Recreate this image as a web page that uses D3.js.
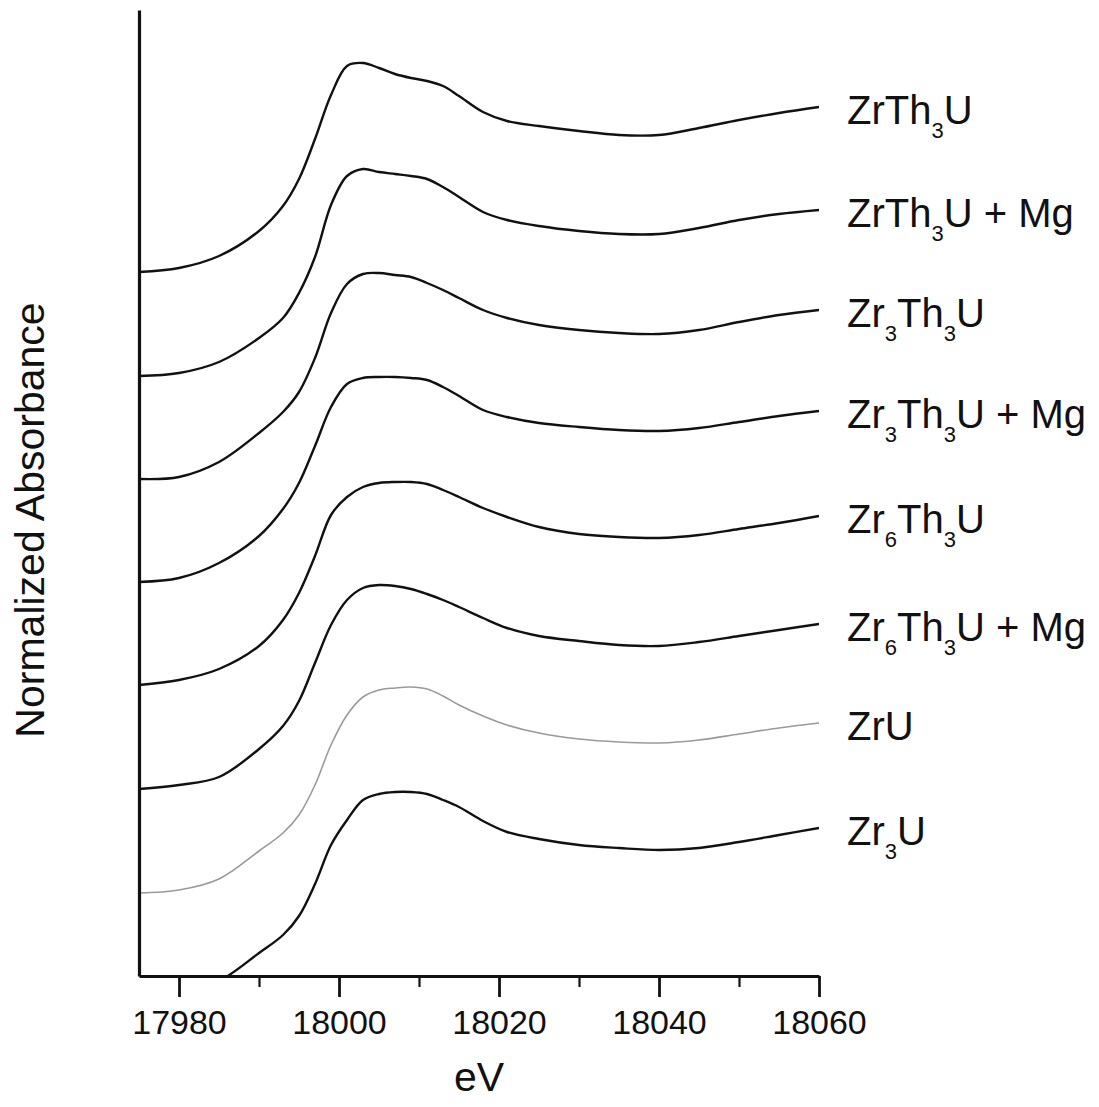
<!DOCTYPE html>
<html>
<head>
<meta charset="utf-8">
<script src="https://cdn.jsdelivr.net/npm/d3@7"></script>
<style>
  html, body { margin: 0; padding: 0; background: #fff; overflow: hidden; }
  svg { display: block; }
  text { font-family: 'Liberation Sans', Arial, Helvetica, sans-serif; fill: #111; }
  .tick text { font-size: 34px; }
  .axis-label { font-size: 41px; }
  .curve-label { font-size: 40px; }
  .sub { font-size: 22px; }
</style>
</head>
<body>
<svg width="1099" height="1107"></svg>
<script>
// photon energy grid (eV), shared by all spectra
const energies = [17975, 17980, 17985, 17990, 17993, 17995, 17997, 17999, 18001, 18003,
  18005, 18007, 18009, 18011, 18013, 18015, 18018, 18021, 18025, 18030,
  18035, 18040, 18045, 18050, 18055, 18060];

// normalized absorbance, already stacked with the offsets used in the figure
const zrTh3U = [7.04, 7.08, 7.20, 7.45, 7.70, 7.97, 8.37, 8.81, 9.10, 9.13,
  9.08, 9.02, 8.98, 8.95, 8.90, 8.80, 8.64, 8.55, 8.50, 8.45,
  8.41, 8.41, 8.48, 8.56, 8.63, 8.69];
const zrTh3UMg = [6.00, 6.03, 6.14, 6.38, 6.58, 6.83, 7.19, 7.71, 8.00, 8.07,
  8.04, 8.02, 8.00, 7.97, 7.89, 7.79, 7.64, 7.56, 7.50, 7.45,
  7.42, 7.42, 7.48, 7.56, 7.62, 7.66];
const zr3Th3U = [4.97, 4.99, 5.14, 5.43, 5.64, 5.84, 6.18, 6.63, 6.92, 7.02,
  7.03, 7.01, 6.99, 6.93, 6.86, 6.78, 6.66, 6.58, 6.51, 6.46,
  6.43, 6.42, 6.46, 6.54, 6.61, 6.66];
const zr3Th3UMg = [3.94, 3.98, 4.13, 4.40, 4.67, 4.93, 5.30, 5.69, 5.92, 5.98,
  5.99, 5.99, 5.98, 5.96, 5.89, 5.80, 5.66, 5.59, 5.53, 5.49,
  5.46, 5.45, 5.48, 5.54, 5.60, 5.65];
const zr6Th3U = [2.91, 2.96, 3.07, 3.30, 3.56, 3.83, 4.20, 4.61, 4.79, 4.89,
  4.93, 4.94, 4.94, 4.92, 4.86, 4.79, 4.68, 4.59, 4.49, 4.42,
  4.39, 4.38, 4.41, 4.47, 4.53, 4.60];
const zr6Th3UMg = [1.87, 1.91, 1.99, 2.27, 2.50, 2.75, 3.13, 3.51, 3.76, 3.88,
  3.91, 3.90, 3.87, 3.82, 3.76, 3.69, 3.58, 3.48, 3.40, 3.35,
  3.31, 3.30, 3.34, 3.40, 3.46, 3.52];
const zrU = [0.83, 0.86, 0.97, 1.25, 1.43, 1.61, 1.91, 2.31, 2.61, 2.79,
  2.86, 2.88, 2.89, 2.87, 2.80, 2.71, 2.60, 2.51, 2.43, 2.37,
  2.34, 2.33, 2.36, 2.42, 2.48, 2.53];
const zr3U = [-0.20, -0.17, -0.05, 0.23, 0.41, 0.60, 0.92, 1.31, 1.56, 1.76,
  1.82, 1.84, 1.84, 1.82, 1.76, 1.69, 1.55, 1.44, 1.37, 1.31,
  1.28, 1.26, 1.28, 1.34, 1.41, 1.48];

// "_3" marks a subscript digit
const seriesNames = ['ZrTh_3U', 'ZrTh_3U + Mg', 'Zr_3Th_3U', 'Zr_3Th_3U + Mg',
  'Zr_6Th_3U', 'Zr_6Th_3U + Mg', 'ZrU', 'Zr_3U'];
const seriesValues = [zrTh3U, zrTh3UMg, zr3Th3U, zr3Th3UMg, zr6Th3U, zr6Th3UMg, zrU, zr3U];
const seriesColors = ['#111', '#111', '#111', '#111', '#111', '#111', '#9a9a9a', '#111'];

const majorTicks = [17980, 18000, 18020, 18040, 18060];
const minorTicks = [17990, 18010, 18030, 18050];

const svg = d3.select('svg');
const height = +svg.attr('height');
const width = +svg.attr('width');

const margin = {top: 10, right: 280, bottom: 131, left: 139};
const innerWidth = width - margin.left - margin.right;
const innerHeight = height - margin.top - margin.bottom;

const xScale = d3.scaleLinear()
  .domain([17975, 18060])
  .range([0, innerWidth]);

const yScale = d3.scaleLinear()
  .domain([0, 9.66])
  .range([innerHeight, 0]);

const defs = svg.append('defs');
defs.append('clipPath')
  .attr('id', 'plot-clip')
  .append('rect')
  .attr('width', innerWidth)
  .attr('height', innerHeight);

const g = svg.append('g')
  .attr('transform', `translate(${margin.left}, ${margin.top})`);

// spectra
const lineGenerator = d3.line()
  .x((d, i) => xScale(energies[i]))
  .y(d => yScale(d))
  .curve(d3.curveCatmullRom.alpha(0.5));

g.append('g')
  .attr('clip-path', 'url(#plot-clip)')
  .selectAll('path')
  .data(seriesValues)
  .enter().append('path')
    .attr('fill', 'none')
    .attr('stroke', (d, i) => seriesColors[i])
    .attr('stroke-width', (d, i) => i === 6 ? 1.6 : 2.4)
    .attr('stroke-linejoin', 'round')
    .attr('d', lineGenerator);

// minor ticks first, then the main axis on top
const minorAxis = d3.axisBottom(xScale)
  .tickValues(minorTicks)
  .tickSize(11)
  .tickSizeOuter(0)
  .tickFormat('');

const minorG = g.append('g').call(minorAxis)
  .attr('transform', `translate(0, ${innerHeight})`);
minorG.select('.domain').remove();
minorG.selectAll('text').remove();
minorG.selectAll('line').attr('stroke', '#111').attr('stroke-width', 2.2);

const xAxis = d3.axisBottom(xScale)
  .tickValues(majorTicks)
  .tickSize(21)
  .tickSizeOuter(0)
  .tickPadding(13)
  .tickFormat(d3.format('d'));

const xAxisG = g.append('g').call(xAxis)
  .attr('transform', `translate(0, ${innerHeight})`);
xAxisG.select('.domain').attr('stroke', '#111').attr('stroke-width', 3);
xAxisG.selectAll('line').attr('stroke', '#111').attr('stroke-width', 2.8);
xAxisG.selectAll('text').attr('fill', '#111');

g.append('text')
  .attr('class', 'axis-label')
  .attr('x', innerWidth / 2)
  .attr('y', innerHeight + 115)
  .attr('text-anchor', 'middle')
  .text('eV');

const yAxis = d3.axisLeft(yScale)
  .tickValues([])
  .tickSizeOuter(0);

const yAxisG = g.append('g').call(yAxis);
yAxisG.select('.domain').attr('stroke', '#111').attr('stroke-width', 3.2);

g.append('text')
  .attr('class', 'axis-label')
  .attr('transform', 'rotate(-90)')
  .attr('x', -510)
  .attr('y', -95)
  .attr('text-anchor', 'middle')
  .text('Normalized Absorbance');

// curve names at the right-hand end of each spectrum
const labels = g.selectAll('.curve-label')
  .data(seriesNames)
  .enter().append('text')
    .attr('class', 'curve-label')
    .attr('x', innerWidth + 28)
    .attr('y', (d, i) => yScale(seriesValues[i][seriesValues[i].length - 1]) + 17);

labels.each(function(name) {
  const t = d3.select(this);
  name.split(/_(\d)/).forEach((part, k) => {
    if (part === '') return;
    const span = t.append('tspan').text(part);
    if (k % 2 === 1) span.attr('class', 'sub').attr('baseline-shift', -14);
  });
});
</script>
</body>
</html>
